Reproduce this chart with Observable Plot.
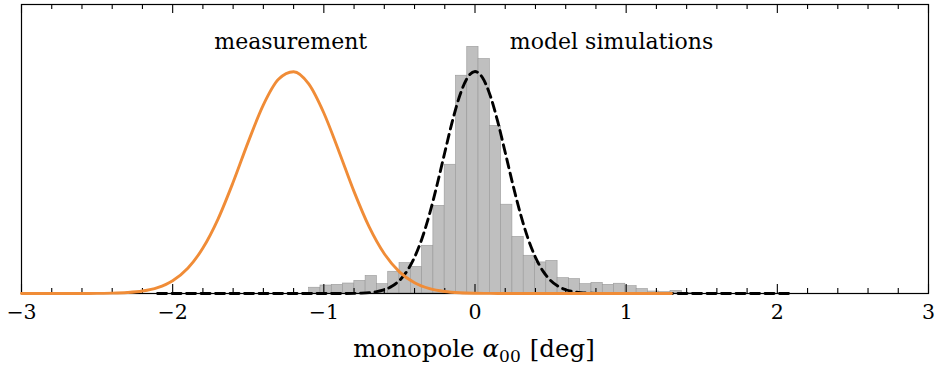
<!DOCTYPE html>
<html><head><meta charset="utf-8">
<script src="https://cdn.jsdelivr.net/npm/d3@7"></script>
<script src="https://cdn.jsdelivr.net/npm/@observablehq/plot@0.6"></script>
<style>
html,body{margin:0;padding:0;background:#fff;}
#chart svg{display:block;}
</style></head><body><div id="chart"></div>
<script>
// Histogram of model simulations (relative heights, Gaussian peak = 1)
const binStart = -1.097;
const binWidth = 0.0747;
const simHist = [0.026,0.036,0.039,0.045,0.057,0.079,0.042,0.098,0.137,0.120,
  0.215,0.395,0.580,0.981,1.111,1.056,0.755,0.400,0.255,0.170,
  0.140,0.147,0.069,0.065,0.042,0.048,0.039,0.044,0.033,0.020,
  0.009,0.006,0.012,0.003];

// Measurement curve (orange)
const measX = [-3.0,-2.9,-2.8,-2.7,-2.6,-2.5,-2.4,-2.3,-2.2,-2.1,-2.0,-1.9,-1.8,-1.7,-1.6,-1.5,-1.4,-1.3,-1.2,-1.1,
  -1.0,-0.9,-0.8,-0.7,-0.6,-0.5,-0.4,-0.3,-0.2,-0.1,0.0,0.1,0.2,0.3,0.4,0.5,0.6,0.7,0.8,0.9,1.0,1.1,1.2,1.3];
const measY = [0,0,0,0,0.0001,0.0005,0.0015,0.0044,0.0113,0.0268,0.0578,0.1138,0.2045,0.3352,0.501,0.683,0.850,0.965,0.999,0.944,
  0.813,0.640,0.459,0.300,0.179,0.0975,0.0485,0.0219,0.0091,0.0034,0.0012,0.0004,0.0001,0,0,0,0,0,0,0,0,0,0,0];

// Model simulations fit (dashed)
const simX = [-2.1,-1.5,-1.0,-0.9,-0.8,-0.75,-0.7,-0.65,-0.6,-0.55,-0.5,-0.45,-0.4,-0.35,-0.3,-0.25,-0.2,-0.15,-0.1,-0.05,
  0,0.05,0.1,0.15,0.2,0.25,0.3,0.35,0.4,0.45,0.5,0.55,0.6,0.65,0.7,0.75,0.8,0.9,1.0,1.5,2.1];
const simY = [0,0,0,0.0001,0.0007,0.0017,0.0039,0.0083,0.0169,0.0324,0.0587,0.1007,0.163,0.249,0.360,0.492,0.635,0.775,0.893,0.972,
  1,0.972,0.893,0.775,0.635,0.492,0.360,0.249,0.163,0.1007,0.0587,0.0324,0.0169,0.0083,0.0039,0.0017,0.0007,0.0001,0,0,0];

const majorTicks = [-3,-2,-1,0,1,2,3];
const minorTicks = [-2.8,-2.6,-2.4,-2.2,-1.8,-1.6,-1.4,-1.2,-0.8,-0.6,-0.4,-0.2,
  0.2,0.4,0.6,0.8,1.2,1.4,1.6,1.8,2.2,2.4,2.6,2.8];
const annotationLabels = ["measurement","model simulations"];
const annotationX = [-1.219, 0.903];

const FONT = "'DejaVu Serif', 'Liberation Serif', 'Noto Serif', serif";
const W = 936, H = 367, mL = 21, mR = 8, mT = 4, mB = 74;
const innerH = H - mT - mB;
const yMax = innerH / 222;

const bins = simHist.map((v,i) => ({x1: binStart + i*binWidth, x2: binStart + (i+1)*binWidth, y: v}));
const meas = measX.map((x,i) => ({x, y: measY[i]}));
const sim = simX.map((x,i) => ({x, y: simY[i]}));
const ann = annotationLabels.map((t,i) => ({t, x: annotationX[i]}));
const fmt = d => d < 0 ? "\u2212" + (-d) : String(d);

const svg = Plot.plot({
  width: W, height: H,
  marginLeft: mL, marginRight: mR, marginTop: mT, marginBottom: mB,
  x: {domain: [-3, 3]},
  y: {domain: [0, yMax], axis: null},
  style: {fontFamily: FONT, background: "#fff", color: "#000"},
  marks: [
    Plot.rectY(bins, {x1: "x1", x2: "x2", y: "y", fill: "#bfbfbf", stroke: "#999999", strokeWidth: 0.6}),
    Plot.frame({stroke: "#000", strokeWidth: 1.2}),
    Plot.tickX(majorTicks, {x: d => d, insetTop: innerH - 9, stroke: "#000", strokeWidth: 1.1}),
    Plot.tickX(minorTicks, {x: d => d, insetTop: innerH - 5, stroke: "#000", strokeWidth: 1.1}),
    Plot.tickX(majorTicks, {x: d => d, insetBottom: innerH - 9, stroke: "#000", strokeWidth: 1.1}),
    Plot.tickX(minorTicks, {x: d => d, insetBottom: innerH - 5, stroke: "#000", strokeWidth: 1.1}),
    Plot.line(sim, {x: "x", y: "y", stroke: "#000", strokeWidth: 2.9, strokeDasharray: "9,5.5", curve: "monotone-x"}),
    Plot.line(meas, {x: "x", y: "y", stroke: "#f08c37", strokeWidth: 2.9, curve: "monotone-x"}),
    Plot.axisX(majorTicks, {tickSize: 0, tickPadding: 11, fontSize: 20.5, fontFamily: FONT, tickFormat: fmt, label: null}),
    Plot.text(ann, {x: "x", y: 1.134, text: "t", fontSize: 22, fontFamily: FONT, fill: "#000"})
  ]
});
document.getElementById("chart").appendChild(svg);

// axis label with italic alpha and subscript
const lab = d3.select(svg).append("text")
  .attr("x", 474)
  .attr("y", 357)
  .attr("text-anchor", "middle")
  .attr("font-family", FONT)
  .attr("font-size", 24.5)
  .attr("fill", "#000");
lab.append("tspan").text("monopole");
lab.append("tspan").attr("dx", 8).attr("font-style", "italic").text("\u03b1");
lab.append("tspan").attr("dy", 5).attr("font-size", 17).text("00");
lab.append("tspan").attr("dx", 9).attr("dy", -5).text("[deg]");
</script>
</body></html>
